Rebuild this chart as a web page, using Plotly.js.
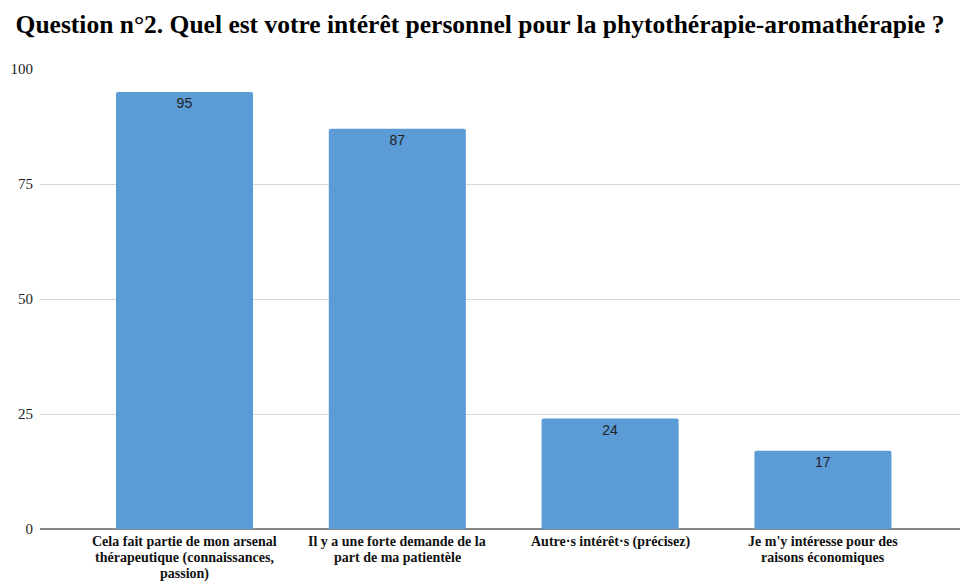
<!DOCTYPE html>
<html>
<head>
<meta charset="utf-8">
<script src="https://cdn.plot.ly/plotly-3.0.1.min.js"></script>
<style>html,body{margin:0;padding:0;background:#fff;}#chart{width:960px;height:582px;}</style>
</head>
<body>
<div id="chart"></div>
<script>
const categories = [
  ["Cela fait partie de mon arsenal", "thérapeutique (connaissances,", "passion)"],
  ["Il y a une forte demande de la", "part de ma patientèle"],
  ["Autre·s intérêt·s (précisez)"],
  ["Je m'y intéresse pour des", "raisons économiques"]
];
const values = [95, 87, 24, 17];
const yTicks = [0, 25, 50, 75, 100];

const idx = categories.map((c, i) => i);

const annotations = [];
categories.forEach((lines, i) => {
  lines.forEach((line, k) => {
    annotations.push({
      x: i, y: 0, xref: 'x', yref: 'y',
      text: '<b>' + line + '</b>',
      showarrow: false,
      xanchor: 'center', yanchor: 'middle',
      borderpad: 0,
      yshift: -(12.5 + 16.2 * k),
      font: {family: 'Liberation Serif, Times New Roman, serif', size: 14, color: '#111'}
    });
  });
});

Plotly.newPlot('chart', [{
  type: 'bar',
  x: idx,
  y: values,
  text: values.map(String),
  textposition: 'inside',
  insidetextanchor: 'end',
  textangle: 0,
  textfont: {family: 'Liberation Sans, Arial, sans-serif', size: 14, color: '#222'},
  marker: {color: '#5b9bd6', cornerradius: 2},
  width: 0.644,
  hoverinfo: 'none'
}], {
  width: 960, height: 582,
  margin: {l: 40, r: 0, t: 69, b: 53},
  paper_bgcolor: '#fff', plot_bgcolor: '#fff',
  showlegend: false,
  annotations: annotations,
  title: {
    text: '<b>Question n°2. Quel est votre intérêt personnel pour la phytothérapie-aromathérapie ?</b>',
    font: {family: 'Liberation Serif, Times New Roman, serif', size: 25.5, color: '#000'},
    x: 0.5, xanchor: 'center', y: 0.958, yanchor: 'middle'
  },
  xaxis: {
    range: [-0.679, 3.644],
    tickmode: 'array',
    tickvals: idx,
    showticklabels: false,
    showgrid: false, zeroline: false,
    showline: false, ticks: '', fixedrange: true
  },
  yaxis: {
    range: [0, 100],
    tickmode: 'array',
    tickvals: yTicks,
    ticktext: yTicks.map(String),
    tickfont: {family: 'Liberation Serif, Times New Roman, serif', size: 15, color: '#222'},
    showgrid: true, gridcolor: '#d9d9d9', gridwidth: 1,
    zeroline: true, zerolinecolor: '#888', zerolinewidth: 2,
    showline: false, ticks: '', ticklabelstandoff: 6, fixedrange: true
  }
}, {displayModeBar: false, staticPlot: true});
</script>
</body>
</html>
